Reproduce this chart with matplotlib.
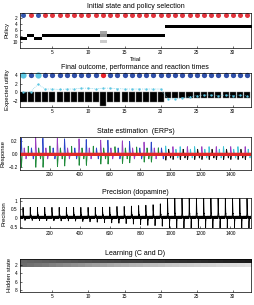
import numpy as np
import matplotlib.pyplot as plt

plt.rcParams['font.family'] = ['Liberation Sans', 'DejaVu Sans']

# ---------------- data ----------------
trials = np.arange(1, 33)
n_policies = 12
bins_per_trial = 48

# initial state per trial: 1 = blue, 2 = red
initial_state = [1, 2, 1] + [2] * 29
# selected policy per trial
chosen_policy = [9, 8, 9] + [8] * 17 + [5] * 12
# trial where the policy posterior is spread out
uncertain_trial = 12
uncertain_policies = [7, 8, 10]
uncertain_probs = [0.35, 0.45, 0.2]

# final outcome: 1 = dark blue, 2 = cyan, 3 = red
outcome = [2, 1, 2] + [1] * 8 + [3] + [1] * 20
performance = [-2.2] * 11 + [-3.2] + [-2.2] * 8 + [-1.3, -1.3] + [-1.2] * 10
reaction_time = [0.0, 0.2, 1.9, 0.8, 0.8, 0.7, 0.8, 0.8, 1.0, 1.0, 0.8, 1.0, 1.0, 0.9, 0.8, 0.8,
                 0.8, 0.8, 0.8, 0.8, -1.5, -1.5, -1.2, -1.0, -0.7, -0.6, -0.6, -0.7, -0.6, -0.7,
                 -0.6, -0.8]

# ERPs: main positive / negative deflection per trial
erp_pos_amp = [0.25, 0.25, 0.26, 0.25, 0.25, 0.25, 0.24, 0.24, 0.24, 0.23, 0.23, 0.22, 0.22, 0.21,
               0.21, 0.2, 0.2, 0.19, 0.19, 0.18, 0.13, 0.12, 0.12, 0.12, 0.12, 0.12, 0.12, 0.12,
               0.12, 0.12, 0.12, 0.12]
erp_pos_col = ['b', 'g', 'm'] * 6 + ['b', 'g'] + ['c', 'm'] * 6
erp_neg_amp = [-0.2, -0.2, -0.2, -0.2, -0.19, -0.19, -0.18, -0.18, -0.17, -0.17, -0.16, -0.15,
               -0.15, -0.14, -0.14, -0.13, -0.13, -0.12, -0.12, -0.12, -0.09, -0.08, -0.08, -0.08,
               -0.08, -0.08, -0.08, -0.08, -0.08, -0.08, -0.08, -0.08]
erp_neg_col = ['g'] * 20 + ['k'] * 12
erp_side_amp = [0.1] * 20 + [0.08] * 12
erp_side_col = ['m', 'b', 'g'] * 6 + ['m', 'b'] + ['k', 'c'] * 6
spike_shape = [0.0, 0.5, 0.9, 1.0, 0.8, 0.55, 0.35, 0.2, 0.1, 0.03, -0.03, -0.05, -0.03, 0.0]
red_ripple = [0.0, 0.01, -0.01, 0.015, 0.0, -0.01, 0.01, 0.0]

# precision (dopamine)
precision_pos = [0.5, 0.5, 0.5, 0.5, 0.5, 0.5, 0.5, 0.5, 0.5, 0.5, 0.5, 0.5, 0.52, 0.55, 0.55, 0.57,
                 0.6, 0.62, 0.65, 0.7, 1.0, 1.05, 1.05, 1.05, 1.05, 1.05, 1.05, 1.05, 1.05, 1.0,
                 1.0, 1.0]
precision_neg = [-0.12, -0.12, -0.13, -0.13, -0.14, -0.15, -0.15, -0.16, -0.18, -0.2, -0.22, -0.24,
                 -0.26, -0.28, -0.3, -0.33, -0.36, -0.4, -0.42, -0.45, -0.58, -0.58, -0.58, -0.58,
                 -0.58, -0.58, -0.58, -0.58, -0.58, -0.58, -0.58, -0.58]
prec_up_shape = [0.3, 1.0, 0.7, 0.45, 0.28, 0.16, 0.08]
prec_down_shape = [-1.0, -0.5, -0.2, -0.05]
prec_ripple = [-0.02, 0.12, 0.0, 0.11, -0.02, 0.12, 0.01, 0.1]

# learning (C and D)
learn_row1 = [0.40, 0.39, 0.38, 0.37, 0.36, 0.35, 0.34, 0.33, 0.32, 0.31, 0.30, 0.29, 0.28, 0.27,
              0.26, 0.26, 0.25, 0.24, 0.23, 0.22, 0.21, 0.20, 0.19, 0.18, 0.18, 0.17, 0.16, 0.15,
              0.14, 0.13, 0.12, 0.11]
learn_row2 = [0.42, 0.44, 0.46, 0.48, 0.50, 0.52, 0.54, 0.56, 0.58, 0.60, 0.62, 0.63, 0.65, 0.67,
              0.68, 0.70, 0.71, 0.73, 0.74, 0.75, 0.77, 0.78, 0.79, 0.80, 0.81, 0.82, 0.83, 0.84,
              0.85, 0.86, 0.87, 0.88]
n_hidden = 8

colours = {'b': '#2a44c8', 'g': '#1f8a3a', 'm': '#9a3fc0', 'c': '#3ec4d6',
           'k': '#111111', 'r': '#e02828'}
state_col = {1: '#3558b0', 2: '#e2343c'}
outcome_col = {1: '#2f4fa8', 2: '#5cc6e2', 3: '#e8222a'}

# ---------------- build signals ----------------
n_bins = len(trials) * bins_per_trial
time = np.arange(1, n_bins + 1)


def add_shape(sig, start, shape, amp):
    for k, v in enumerate(shape):
        if start + k < len(sig):
            sig[start + k] += amp * v


erp = {c: np.zeros(n_bins) for c in 'bgmck'}
red = np.tile(red_ripple, n_bins // len(red_ripple)).astype(float)
for i in range(len(trials)):
    t0 = i * bins_per_trial
    add_shape(erp[erp_pos_col[i]], t0 + 6, spike_shape, erp_pos_amp[i])
    add_shape(erp[erp_neg_col[i]], t0 + 7, spike_shape, erp_neg_amp[i])
    add_shape(erp[erp_side_col[i]], t0 + 26, spike_shape, erp_side_amp[i])
    add_shape(erp[erp_side_col[i]], t0 + 38, spike_shape, -erp_side_amp[i] * 0.7)

prec = np.tile(prec_ripple, n_bins // len(prec_ripple)).astype(float)
for i in range(len(trials)):
    t0 = i * bins_per_trial
    add_shape(prec, t0 + 20, prec_up_shape, precision_pos[i])
    add_shape(prec, t0 + 34, prec_down_shape, -precision_neg[i])

P = np.zeros((n_policies, len(trials)))
for i, p in enumerate(chosen_policy):
    P[p - 1, i] = 1.0
P[:, uncertain_trial - 1] = 0.0
for p, pr in zip(uncertain_policies, uncertain_probs):
    P[p - 1, uncertain_trial - 1] = pr

L = np.ones((n_hidden, len(trials)))
L[0] = learn_row1
L[1] = learn_row2

# ---------------- figure ----------------
fig = plt.figure(figsize=(2.55, 3.05), dpi=100)
left, width = 0.078, 0.906
title_fs, label_fs, tick_fs = 5.0, 4.3, 3.4


def style(ax):
    ax.tick_params(direction='in', length=1.5, width=0.4, labelsize=tick_fs, pad=1.5)
    for s in ax.spines.values():
        s.set_linewidth(0.5)


# panel 1
ax1 = fig.add_axes([left, 0.843, width, 0.116])
ax1.imshow(1 - P, cmap='gray', vmin=0, vmax=1, aspect='auto', interpolation='nearest',
           extent=(0.5, 32.5, n_policies + 0.5, 0.5))
for t, s in zip(trials, initial_state):
    ax1.plot(t, 1, 'o', ms=3.6, mec='none', color=state_col[s], clip_on=False)
ax1.set_xlim(0.5, 32.5)
ax1.set_ylim(12.1, 0.3)
ax1.set_yticks([2, 4, 6, 8, 10])
ax1.set_xticks([5, 10, 15, 20, 25, 30])
ax1.set_title('Initial state and policy selection', fontsize=title_fs, pad=3)
ax1.set_ylabel('Policy', fontsize=label_fs, labelpad=2)
ax1.set_xlabel('Trial', fontsize=label_fs, labelpad=1.5)
style(ax1)

# panel 2
ax2 = fig.add_axes([left, 0.650, width, 0.112])
ax2.bar(trials, performance, width=0.85, color='k', edgecolor='#777777', linewidth=0.3)
ax2.plot(trials, reaction_time, ':', color='#5cc6e2', lw=0.5)
ax2.plot(trials, reaction_time, 'o', ms=1.7, mec='none', color='#5cc6e2')
for t, o in zip(trials, outcome):
    ax2.plot(t, 4, 'o', ms=4.5 if o == 2 else 3.8, mec='none', color=outcome_col[o], clip_on=False)
ax2.set_xlim(0.5, 32.5)
ax2.set_ylim(-3.3, 4.6)
ax2.set_yticks([-2, 0, 2, 4])
ax2.set_xticks([5, 10, 15, 20, 25, 30])
ax2.set_title('Final outcome, performance and reaction times', fontsize=title_fs, pad=2.5)
ax2.set_ylabel('Expected utility', fontsize=label_fs, labelpad=2)
style(ax2)

# panel 3
ax3 = fig.add_axes([left, 0.443, width, 0.108])
for c in ['g', 'b', 'm', 'c', 'k']:
    ax3.plot(time, erp[c], color=colours[c], lw=0.6)
ax3.plot(time, red, color=colours['r'], lw=1.2)
ax3.set_xlim(1, n_bins)
ax3.set_ylim(-0.24, 0.27)
ax3.set_yticks([-0.2, 0, 0.2])
ax3.set_xticks([200, 400, 600, 800, 1000, 1200, 1400])
ax3.set_title('State estimation  (ERPs)', fontsize=title_fs, pad=3)
ax3.set_ylabel('Response', fontsize=label_fs, labelpad=2)
style(ax3)

# panel 4
ax4 = fig.add_axes([left, 0.251, width, 0.099])
ax4.plot(time, prec, color='k', lw=0.6)
ax4.set_xlim(1, n_bins)
ax4.set_ylim(-0.58, 1.14)
ax4.set_yticks([-0.5, 0, 0.5, 1])
ax4.set_yticklabels(['-0.5', '0', '0.5', '1'])
ax4.set_xticks([200, 400, 600, 800, 1000, 1200, 1400])
ax4.set_title('Precision (dopamine)', fontsize=title_fs, pad=3)
ax4.set_ylabel('Precision', fontsize=label_fs, labelpad=2)
style(ax4)

# panel 5
ax5 = fig.add_axes([left, 0.043, width, 0.108])
ax5.imshow(L, cmap='gray', vmin=0, vmax=1, aspect='auto', interpolation='nearest',
           extent=(0.5, 32.5, n_hidden + 0.5, 0.5))
ax5.set_xlim(0.5, 32.5)
ax5.set_ylim(n_hidden + 0.5, 0.5)
ax5.set_yticks([2, 4, 6, 8])
ax5.set_xticks([5, 10, 15, 20, 25, 30])
ax5.set_title('Learning (C and D)', fontsize=title_fs, pad=3)
ax5.set_ylabel('Hidden state', fontsize=label_fs, labelpad=2)
style(ax5)

fig.savefig('out.png', dpi=100)
